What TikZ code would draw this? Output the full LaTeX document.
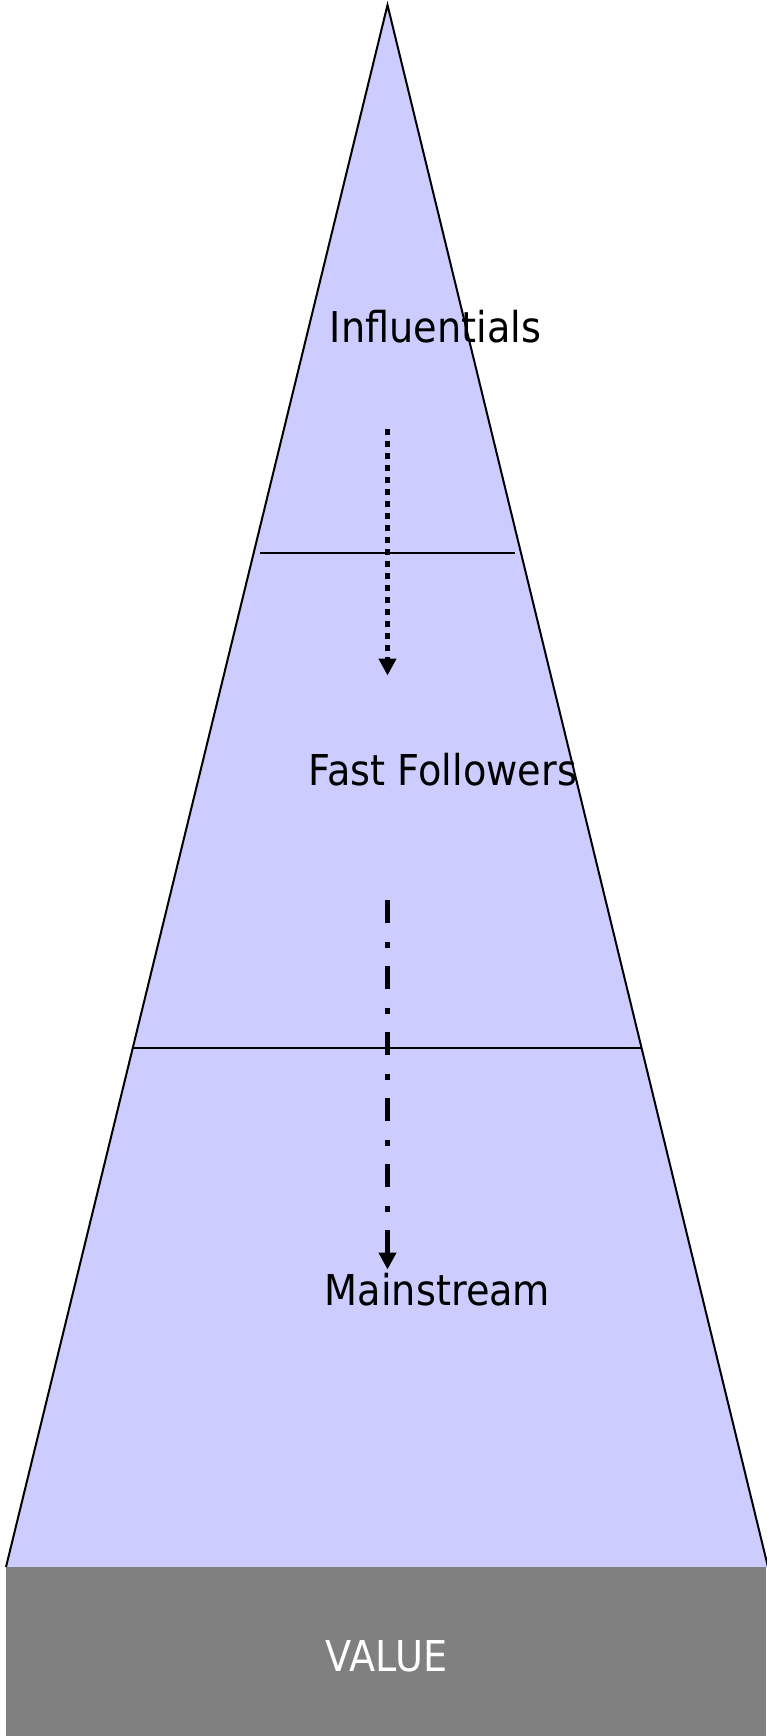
\documentclass[tikz,border=0pt]{standalone}
\usepackage{fontspec}
\setmainfont{DejaVu Sans}[FakeStretch=0.9]
\usetikzlibrary{arrows.meta}
\definecolor{tierfill}{HTML}{CCCCFF}
\definecolor{valuegray}{HTML}{808080}
\tikzset{
  tierlabel/.style={anchor=base,inner sep=0pt,font=\fontsize{42.5}{50}\selectfont,text=black},
  valuelabel/.style={anchor=base,inner sep=0pt,font=\fontsize{42.5}{50}\selectfont,text=white},
  outline/.style={draw=black,line width=2pt,line join=miter},
  divider/.style={draw=black,line width=2pt},
  flowarrow/.style={line width=5.5pt,line cap=butt,-{Triangle[width=17pt,length=17pt]}},
}
\begin{document}
\begin{tikzpicture}[x=1pt,y=-1pt]
\useasboundingbox (0,0) rectangle (766,1736);
% coordinates of the pyramid
\coordinate (apex) at (387.5,5);
\coordinate (bl) at (6,1567);
\coordinate (br) at (768,1567);
% fill
\fill[tierfill] (apex) -- (br) -- (bl) -- cycle;
% value bar
\fill[valuegray] (6,1567) rectangle (766,1736);
% labels
\node[tierlabel] (infl) at (435.5,342) {Influentials};
\node[tierlabel] (fast) at (443,785) {Fast Followers};
\node[tierlabel] (main) at (437.5,1305) {Mainstream};
\node[valuelabel] (value) at (386.7,1671.5) {VALUE};
% outline
\draw[outline] (bl) -- (apex) -- (br);
% dividers
\coordinate (d1l) at (260,552.5);
\coordinate (d1r) at (515,552.5);
\coordinate (d2l) at (133,1047.5);
\coordinate (d2r) at (642,1047.5);
\draw[divider] (d1l) -- (d1r);
\draw[divider] (d2l) -- (d2r);
% arrows
\coordinate (a1s) at (387.5,429);
\coordinate (a1e) at (387.5,675.5);
\coordinate (a2s) at (387.5,900);
\coordinate (a2e) at (387.5,1269.5);
\draw[flowarrow,dash pattern=on 6pt off 6pt] (a1s) -- (a1e);
\draw[flowarrow,dash pattern=on 23pt off 18.5pt on 6pt off 18.5pt] (a2s) -- (a2e);
\end{tikzpicture}
\end{document}
